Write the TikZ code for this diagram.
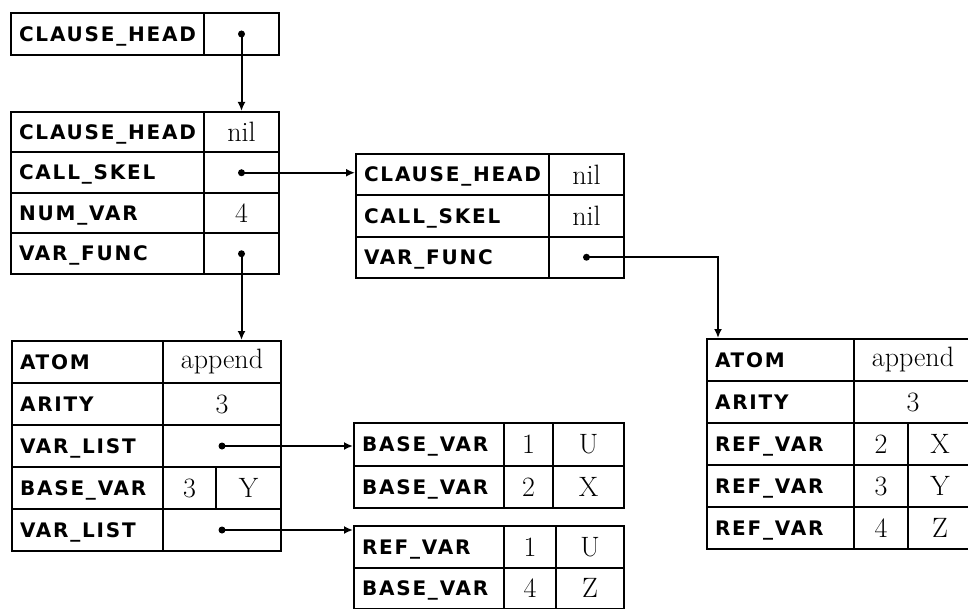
\documentclass[tikz,border=0pt]{standalone}
\usepackage{fontspec}
\newfontfamily\labfamily[LetterSpace=9]{DejaVu Sans}
\usetikzlibrary{arrows.meta}
\newcommand{\labfont}{\labfamily\bfseries\fontsize{20}{22}\selectfont}
\newcommand{\valfont}{\fontsize{28}{30}\selectfont}
\tikzset{
  cell/.style={draw, line width=2pt, inner sep=0pt, anchor=north west},
  lab/.style={cell, text width=#1, text height=14.5pt, text depth=0pt, inner xsep=8pt, align=left, font=\labfont},
  val/.style={cell, minimum width=#1, font=\valfont},
  ptr/.style={line width=2pt, -{Latex[length=9pt,width=8pt]}},
  dot/.style={fill=black}
}
\begin{document}
\begin{tikzpicture}[x=1pt, y=-1pt]
\useasboundingbox (0,0) rectangle (968,609);
% top clause head
\begin{scope}[minimum height=42pt]
\node[lab=177] (aHD) at (10,12) {CLAUSE\_HEAD};
\node[val=75] (aHDv) at (203,12) {};
\end{scope}
% clause record
\begin{scope}[minimum height=40.5pt]
\node[lab=177] (bHD) at (10,111) {CLAUSE\_HEAD};
\node[val=75] (bHDv) at (203,111) {nil};
\node[lab=177] (bSK) at (10,151.5) {CALL\_SKEL};
\node[val=75] (bSKv) at (203,151.5) {};
\node[lab=177] (bNV) at (10,192) {NUM\_VAR};
\node[val=75] (bNVv) at (203,192) {4};
\node[lab=177] (bVF) at (10,232.5) {VAR\_FUNC};
\node[val=75] (bVFv) at (203,232.5) {};
\end{scope}
% call skeleton record
\begin{scope}[minimum height=41.3pt]
\node[lab=177] (cHD) at (355,153) {CLAUSE\_HEAD};
\node[val=75] (cHDv) at (548,153) {nil};
\node[lab=177] (cSK) at (355,194.3) {CALL\_SKEL};
\node[val=75] (cSKv) at (548,194.3) {nil};
\node[lab=177] (cVF) at (355,235.6) {VAR\_FUNC};
\node[val=75] (cVFv) at (548,235.6) {};
\end{scope}
% head atom
\begin{scope}[minimum height=42pt]
\node[lab=135] (dAT) at (11,340) {ATOM};
\node[val=118] (dATv) at (162,340) {append};
\node[lab=135] (dAR) at (11,382) {ARITY};
\node[val=118] (dARv) at (162,382) {3};
\node[lab=135] (dVL1) at (11,424) {VAR\_LIST};
\node[val=118] (dVL1v) at (162,424) {};
\node[lab=135] (dBV) at (11,466) {BASE\_VAR};
\node[val=53] (dBVn) at (162,466) {3};
\node[val=65] (dBVs) at (215,466) {Y};
\node[lab=135] (dVL2) at (11,508) {VAR\_LIST};
\node[val=118] (dVL2v) at (162,508) {};
\end{scope}
% first variable list
\begin{scope}[minimum height=42.5pt]
\node[lab=134] (eB1) at (353,422) {BASE\_VAR};
\node[val=49] (eB1n) at (503,422) {1};
\node[val=71] (eB1s) at (552,422) {U};
\node[lab=134] (eB2) at (353,464.5) {BASE\_VAR};
\node[val=49] (eB2n) at (503,464.5) {2};
\node[val=71] (eB2s) at (552,464.5) {X};
\end{scope}
% second variable list
\begin{scope}[minimum height=41.5pt]
\node[lab=134] (fR1) at (353,525) {REF\_VAR};
\node[val=52] (fR1n) at (503,525) {1};
\node[val=68] (fR1s) at (555,525) {U};
\node[lab=134] (fB2) at (353,566.5) {BASE\_VAR};
\node[val=52] (fB2n) at (503,566.5) {4};
\node[val=68] (fB2s) at (555,566.5) {Z};
\end{scope}
% body atom
\begin{scope}[minimum height=42pt]
\node[lab=131] (gAT) at (706,338) {ATOM};
\node[val=118] (gATv) at (853,338) {append};
\node[lab=131] (gAR) at (706,380) {ARITY};
\node[val=118] (gARv) at (853,380) {3};
\node[lab=131] (gR1) at (706,422) {REF\_VAR};
\node[val=54] (gR1n) at (853,422) {2};
\node[val=64] (gR1s) at (907,422) {X};
\node[lab=131] (gR2) at (706,464) {REF\_VAR};
\node[val=54] (gR2n) at (853,464) {3};
\node[val=64] (gR2s) at (907,464) {Y};
\node[lab=131] (gR3) at (706,506) {REF\_VAR};
\node[val=54] (gR3n) at (853,506) {4};
\node[val=64] (gR3s) at (907,506) {Z};
\end{scope}
% pointers
\coordinate (gIn) at ([xshift=12pt]gAT.north west);
\draw[ptr] (aHDv.center) -- (aHDv.center |- bHD.north);
\draw[ptr] (bSKv.center) -- (bSKv.center -| cHD.west);
\draw[ptr] (bVFv.center) -- (bVFv.center |- dAT.north);
\draw[ptr] (cVFv.center) -| (gIn);
\draw[ptr] (dVL1v.center) -- (dVL1v.center -| eB1.west);
\draw[ptr] (dVL2v.center) -- (dVL2v.center -| fR1.west);
\foreach \p in {aHDv, bSKv, bVFv, cVFv, dVL1v, dVL2v}
  \fill[dot] (\p.center) circle (3.5pt);
\end{tikzpicture}
\end{document}
